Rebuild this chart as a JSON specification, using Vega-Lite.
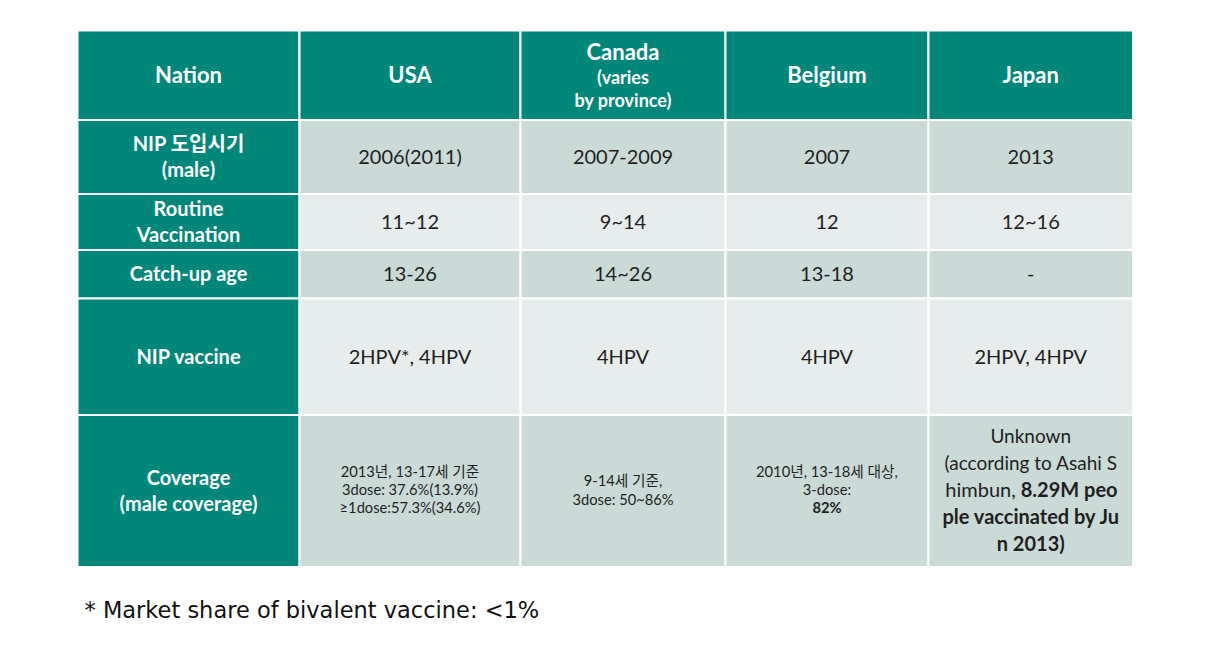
{
  "$schema": "https://vega.github.io/schema/vega-lite/v6.json",
  "width": 1221,
  "height": 648,
  "autosize": {"type": "none"},
  "padding": 0,
  "background": "white",
  "config": {"view": {"stroke": null}, "axis": {"disable": true}},
  "datasets": {
    "cols": [
      {"col": "label", "x0": 77.5, "x1": 299.5},
      {"col": "USA", "x0": 299.5, "x1": 520.5},
      {"col": "Canada", "x0": 520.5, "x1": 725.5},
      {"col": "Belgium", "x0": 725.5, "x1": 928.5},
      {"col": "Japan", "x0": 928.5, "x1": 1133},
      {"col": "note", "x0": 77.5, "x1": 1133}
    ],
    "rows": [
      {"row": "header", "y0": 30.5, "y1": 120, "tone": "head"},
      {"row": "intro", "y0": 120, "y1": 194, "tone": "dark"},
      {"row": "routine", "y0": 194, "y1": 250, "tone": "light"},
      {"row": "catchup", "y0": 250, "y1": 298.5, "tone": "dark"},
      {"row": "vaccine", "y0": 298.5, "y1": 415, "tone": "light"},
      {"row": "coverage", "y0": 415, "y1": 567, "tone": "dark"},
      {"row": "note", "y0": 596, "y1": 626, "tone": "none"}
    ],
    "texts": [
      {"row": "header", "col": "label", "kind": "hdr", "text": "Nation"},
      {"row": "header", "col": "USA", "kind": "hdr", "text": "USA"},
      {"row": "header", "col": "Canada", "kind": "hdrTop", "text": "Canada"},
      {"row": "header", "col": "Canada", "kind": "hdrSub", "text": ["(varies", "by province)"]},
      {"row": "header", "col": "Belgium", "kind": "hdr", "text": "Belgium"},
      {"row": "header", "col": "Japan", "kind": "hdr", "text": "Japan"},
      {"row": "intro", "col": "label", "kind": "label2", "text": ["NIP 도입시기", "(male)"]},
      {"row": "intro", "col": "USA", "kind": "body", "text": "2006(2011)"},
      {"row": "intro", "col": "Canada", "kind": "body", "text": "2007-2009"},
      {"row": "intro", "col": "Belgium", "kind": "body", "text": "2007"},
      {"row": "intro", "col": "Japan", "kind": "body", "text": "2013"},
      {"row": "routine", "col": "label", "kind": "label2", "text": ["Routine", "Vaccination"]},
      {"row": "routine", "col": "USA", "kind": "body", "text": "11~12"},
      {"row": "routine", "col": "Canada", "kind": "body", "text": "9~14"},
      {"row": "routine", "col": "Belgium", "kind": "body", "text": "12"},
      {"row": "routine", "col": "Japan", "kind": "body", "text": "12~16"},
      {"row": "catchup", "col": "label", "kind": "label", "text": "Catch-up age"},
      {"row": "catchup", "col": "USA", "kind": "body", "text": "13-26"},
      {"row": "catchup", "col": "Canada", "kind": "body", "text": "14~26"},
      {"row": "catchup", "col": "Belgium", "kind": "body", "text": "13-18"},
      {"row": "catchup", "col": "Japan", "kind": "body", "text": "-"},
      {"row": "vaccine", "col": "label", "kind": "label", "text": "NIP vaccine"},
      {"row": "vaccine", "col": "USA", "kind": "body", "text": "2HPV*, 4HPV"},
      {"row": "vaccine", "col": "Canada", "kind": "body", "text": "4HPV"},
      {"row": "vaccine", "col": "Belgium", "kind": "body", "text": "4HPV"},
      {"row": "vaccine", "col": "Japan", "kind": "body", "text": "2HPV, 4HPV"},
      {"row": "coverage", "col": "label", "kind": "label2", "text": ["Coverage", "(male coverage)"]},
      {"row": "coverage", "col": "USA", "kind": "small3", "text": ["2013년, 13-17세 기준", "3dose: 37.6%(13.9%)", "≥1dose:57.3%(34.6%)"]},
      {"row": "coverage", "col": "Canada", "kind": "small2", "text": ["9-14세 기준,", "3dose: 50~86%"]},
      {"row": "coverage", "col": "Belgium", "kind": "small3", "text": ["2010년, 13-18세 대상,", "3-dose:"]},
      {"row": "coverage", "col": "Belgium", "kind": "smallBold", "text": "82%"},
      {"row": "coverage", "col": "Japan", "kind": "jpTop", "text": ["Unknown", "(according to Asahi S"]},
      {"row": "coverage", "col": "Japan", "kind": "jpLeft", "text": "himbun,"},
      {"row": "coverage", "col": "Japan", "kind": "jpRight", "text": "8.29M peo"},
      {"row": "coverage", "col": "Japan", "kind": "jpBottom", "text": ["ple vaccinated by Ju", "n 2013)"]},
      {"row": "note", "col": "note", "kind": "note", "text": "* Market share of bivalent vaccine: <1%"}
    ]
  },
  "data": {"name": "texts"},
  "transform": [
    {"lookup": "col", "from": {"data": {"name": "cols"}, "key": "col", "fields": ["x0", "x1"]}},
    {"lookup": "row", "from": {"data": {"name": "rows"}, "key": "row", "fields": ["y0", "y1", "tone"]}},
    {"calculate": "(datum.x0 + datum.x1) / 2", "as": "xc"},
    {"calculate": "(datum.y0 + datum.y1) / 2", "as": "yc"},
    {"calculate": "datum.col === 'label' || datum.row === 'header' ? 'head' : datum.tone", "as": "fillType"}
  ],
  "encoding": {
    "x": {"field": "xc", "type": "quantitative", "scale": {"domain": [0, 1221], "range": [0, 1221], "nice": false, "zero": false}, "axis": null},
    "y": {"field": "yc", "type": "quantitative", "scale": {"domain": [0, 648], "range": [0, 648], "nice": false, "zero": false}, "axis": null}
  },
  "layer": [
    {
      "transform": [
        {"filter": "datum.row !== 'note'"},
        {"aggregate": [{"op": "min", "field": "x0", "as": "x0"}, {"op": "max", "field": "x1", "as": "x1"}, {"op": "min", "field": "y0", "as": "y0"}, {"op": "max", "field": "y1", "as": "y1"}], "groupby": ["row", "col", "fillType"]}
      ],
      "mark": {"type": "rect", "stroke": "white", "strokeWidth": 2},
      "encoding": {
        "x": {"field": "x0", "type": "quantitative", "scale": {"domain": [0, 1221], "range": [0, 1221], "nice": false, "zero": false}, "axis": null},
        "x2": {"field": "x1"},
        "y": {"field": "y0", "type": "quantitative", "scale": {"domain": [0, 648], "range": [0, 648], "nice": false, "zero": false}, "axis": null},
        "y2": {"field": "y1"},
        "fill": {"field": "fillType", "type": "nominal", "scale": {"domain": ["head", "dark", "light"], "range": ["#00877A", "#CADAD7", "#E7EDEC"]}, "legend": null}
      }
    },
    {
      "transform": [{"filter": "datum.kind === 'hdr'"}],
      "mark": {"type": "text", "font": "Lato, Noto Sans CJK KR", "fontWeight": "bold", "fontSize": 22, "color": "white", "align": "center", "baseline": "middle", "dy": 1},
      "encoding": {"text": {"field": "text"}}
    },
    {
      "transform": [{"filter": "datum.kind === 'hdrTop'"}],
      "mark": {"type": "text", "font": "Lato, Noto Sans CJK KR", "fontWeight": "bold", "fontSize": 22, "color": "white", "align": "center", "baseline": "middle", "dy": -22},
      "encoding": {"text": {"field": "text"}}
    },
    {
      "transform": [{"filter": "datum.kind === 'hdrSub'"}],
      "mark": {"type": "text", "font": "Lato, Noto Sans CJK KR", "fontWeight": "bold", "fontSize": 18, "lineHeight": 23, "color": "white", "align": "center", "baseline": "middle", "dy": 4},
      "encoding": {"text": {"field": "text"}}
    },
    {
      "transform": [{"filter": "datum.kind === 'label'"}],
      "mark": {"type": "text", "font": "Lato, Noto Sans CJK KR", "fontWeight": "bold", "fontSize": 20, "color": "white", "align": "center", "baseline": "middle", "dy": 1},
      "encoding": {"text": {"field": "text"}}
    },
    {
      "transform": [{"filter": "datum.kind === 'label2'"}],
      "mark": {"type": "text", "font": "Lato, Noto Sans CJK KR", "fontWeight": "bold", "fontSize": 20, "lineHeight": 26, "color": "white", "align": "center", "baseline": "middle", "dy": -12},
      "encoding": {"text": {"field": "text"}}
    },
    {
      "transform": [{"filter": "datum.kind === 'body'"}],
      "mark": {"type": "text", "font": "Lato, Noto Sans CJK KR", "fontSize": 20, "color": "#1f1f1f", "align": "center", "baseline": "middle", "dy": 1},
      "encoding": {"text": {"field": "text"}}
    },
    {
      "transform": [{"filter": "datum.kind === 'small3'"}],
      "mark": {"type": "text", "font": "Lato, Noto Sans CJK KR", "fontSize": 14.7, "lineHeight": 18, "color": "#1f1f1f", "align": "center", "baseline": "middle", "dy": -18},
      "encoding": {"text": {"field": "text"}}
    },
    {
      "transform": [{"filter": "datum.kind === 'small2'"}],
      "mark": {"type": "text", "font": "Lato, Noto Sans CJK KR", "fontSize": 14.7, "lineHeight": 18.5, "color": "#1f1f1f", "align": "center", "baseline": "middle", "dy": -9},
      "encoding": {"text": {"field": "text"}}
    },
    {
      "transform": [{"filter": "datum.kind === 'smallBold'"}],
      "mark": {"type": "text", "font": "Lato, Noto Sans CJK KR", "fontSize": 14.7, "fontWeight": "bold", "color": "#1f1f1f", "align": "center", "baseline": "middle", "dy": 18},
      "encoding": {"text": {"field": "text"}}
    },
    {
      "transform": [{"filter": "datum.kind === 'jpTop'"}],
      "mark": {"type": "text", "font": "Lato, Noto Sans CJK KR", "fontSize": 19, "lineHeight": 27, "color": "#1f1f1f", "align": "center", "baseline": "middle", "dy": -54},
      "encoding": {"text": {"field": "text"}}
    },
    {
      "transform": [{"filter": "datum.kind === 'jpLeft'"}],
      "mark": {"type": "text", "font": "Lato, Noto Sans CJK KR", "fontSize": 20, "color": "#1f1f1f", "align": "right", "baseline": "middle", "dx": -15},
      "encoding": {"text": {"field": "text"}}
    },
    {
      "transform": [{"filter": "datum.kind === 'jpRight'"}],
      "mark": {"type": "text", "font": "Lato, Noto Sans CJK KR", "fontSize": 20, "fontWeight": "bold", "color": "#1f1f1f", "align": "left", "baseline": "middle", "dx": -10},
      "encoding": {"text": {"field": "text"}}
    },
    {
      "transform": [{"filter": "datum.kind === 'jpBottom'"}],
      "mark": {"type": "text", "font": "Lato, Noto Sans CJK KR", "fontSize": 20, "fontWeight": "bold", "lineHeight": 27, "color": "#1f1f1f", "align": "center", "baseline": "middle", "dy": 27},
      "encoding": {"text": {"field": "text"}}
    },
    {
      "transform": [{"filter": "datum.kind === 'note'"}],
      "mark": {"type": "text", "font": "DejaVu Sans", "fontSize": 22.5, "color": "#111111", "align": "left", "baseline": "middle", "dx": 7},
      "encoding": {
        "x": {"field": "x0", "type": "quantitative", "scale": {"domain": [0, 1221], "range": [0, 1221], "nice": false, "zero": false}, "axis": null},
        "text": {"field": "text"}
      }
    }
  ]
}
